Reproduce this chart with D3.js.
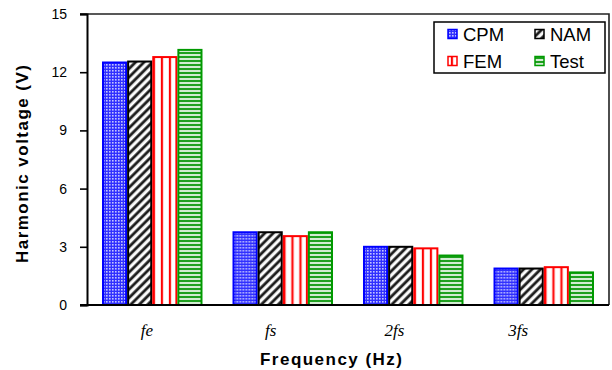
<!DOCTYPE html>
<html>
<head>
<meta charset="utf-8">
<script src="https://cdn.jsdelivr.net/npm/d3@7"></script>
<style>
  html, body { margin: 0; padding: 0; background: #fff; }
  svg { display: block; }
</style>
</head>
<body>
<svg id="chart" width="612" height="370"></svg>
<script>
// Harmonic voltage per frequency component
const categories = ["fe", "fs", "2fs", "3fs"];
const seriesNames = ["CPM", "NAM", "FEM", "Test"];
const cpm  = [12.5, 3.75, 3.0, 1.88];
const nam  = [12.55, 3.75, 3.0, 1.88];
const fem  = [12.78, 3.55, 2.92, 1.95];
const test = [13.15, 3.75, 2.55, 1.68];
const yTicks = [0, 3, 6, 9, 12, 15];

const seriesValues = [cpm, nam, fem, test];
const strokeColors = ["#0000ff", "#000000", "#ff0000", "#009a00"];
const fillIds = ["pat-cpm", "pat-nam", "pat-fem", "pat-test"];

const svg = d3.select("#chart");
const plotLeft = 87, plotRight = 609, plotTop = 14, plotBottom = 305;

// fill patterns
const defs = svg.append("defs");
const pCpm = defs.append("pattern").attr("id", "pat-cpm").attr("patternUnits", "userSpaceOnUse")
  .attr("width", 3).attr("height", 3);
pCpm.append("rect").attr("width", 3).attr("height", 3).attr("fill", "#3030ff");
pCpm.append("rect").attr("x", 1).attr("y", 1).attr("width", 1.6).attr("height", 1.6).attr("fill", "#c4c4ff");

const pNam = defs.append("pattern").attr("id", "pat-nam").attr("patternUnits", "userSpaceOnUse")
  .attr("width", 6).attr("height", 6).attr("patternTransform", "rotate(45)");
pNam.append("rect").attr("width", 6).attr("height", 6).attr("fill", "#ffffff");
pNam.append("rect").attr("x", 0).attr("width", 3.4).attr("height", 6).attr("fill", "#9a9a9a");
pNam.append("rect").attr("x", 0.6).attr("width", 2.2).attr("height", 6).attr("fill", "#111111");

const pFem = defs.append("pattern").attr("id", "pat-fem").attr("patternUnits", "userSpaceOnUse")
  .attr("width", 8).attr("height", 8);
pFem.append("rect").attr("width", 8).attr("height", 8).attr("fill", "#ffffff");
pFem.append("rect").attr("x", 2.5).attr("width", 3).attr("height", 8).attr("fill", "#ffb8b8");
pFem.append("rect").attr("x", 3).attr("width", 1.8).attr("height", 8).attr("fill", "#ff0000");

const pTest = defs.append("pattern").attr("id", "pat-test").attr("patternUnits", "userSpaceOnUse")
  .attr("width", 4).attr("height", 4);
pTest.append("rect").attr("width", 4).attr("height", 4).attr("fill", "#d2ecd2");
pTest.append("rect").attr("y", 0).attr("width", 4).attr("height", 2).attr("fill", "#1fa01f");

// scales
const x0 = d3.scaleBand().domain(categories).range([plotLeft, plotRight])
  .paddingInner(0.23).paddingOuter(0.115);
const x1 = d3.scaleBand().domain(seriesNames).range([0, x0.bandwidth()]);
const labelX = d3.scaleBand().domain(categories).range([85, 580]);
const y = d3.scaleLinear().domain([0, 15]).range([plotBottom, plotTop]);

// plot frame (top and right)
svg.append("path")
  .attr("d", `M${plotLeft - 7},${plotTop}H${plotRight}V${plotBottom}`)
  .attr("fill", "none").attr("stroke", "#222").attr("stroke-width", 1.6);

// bars
const groups = svg.append("g").selectAll("g")
  .data(categories).join("g")
  .attr("transform", d => `translate(${x0(d)},0)`);

groups.selectAll("rect")
  .data((c, ci) => seriesNames.map((s, si) => ({ s, si, v: seriesValues[si][ci] })))
  .join("rect")
  .attr("x", d => x1(d.s) + 1)
  .attr("width", x1.bandwidth() - 2)
  .attr("y", d => y(d.v))
  .attr("height", d => y(0) - y(d.v))
  .attr("fill", d => `url(#${fillIds[d.si]})`)
  .attr("stroke", d => strokeColors[d.si])
  .attr("stroke-width", 2);

// y axis
const yAxis = d3.axisLeft(y).tickValues(yTicks).tickSize(7).tickPadding(13).tickFormat(d3.format("d"));
const yg = svg.append("g").attr("transform", `translate(${plotLeft},0)`).call(yAxis);
yg.select(".domain").attr("stroke", "#000").attr("stroke-width", 2);
yg.selectAll(".tick line").attr("stroke", "#000").attr("stroke-width", 1.6);
yg.selectAll(".tick text")
  .attr("font-family", "'Liberation Sans Narrow', 'Arial Narrow', 'Liberation Sans', Arial, sans-serif")
  .attr("font-size", 14).attr("fill", "#000");

// x baseline
svg.append("line")
  .attr("x1", plotLeft - 7).attr("x2", plotRight)
  .attr("y1", y(0)).attr("y2", y(0))
  .attr("stroke", "#000").attr("stroke-width", 2);

// category labels
svg.append("g").selectAll("text")
  .data(categories).join("text")
  .attr("x", d => labelX(d) + labelX.bandwidth() / 2)
  .attr("y", 336)
  .attr("text-anchor", "middle")
  .attr("font-family", "'Liberation Serif', 'Times New Roman', serif")
  .attr("font-style", "italic")
  .attr("font-size", 17)
  .text(d => d);

// axis titles
svg.append("text")
  .attr("x", 331).attr("y", 365)
  .attr("text-anchor", "middle")
  .attr("font-family", "'Liberation Sans', Arial, sans-serif")
  .attr("font-weight", "bold").attr("font-size", 17)
  .attr("textLength", 142).attr("lengthAdjust", "spacing")
  .text("Frequency (Hz)");

svg.append("text")
  .attr("transform", "translate(28,164) rotate(-90)")
  .attr("text-anchor", "middle")
  .attr("font-family", "'Liberation Sans', Arial, sans-serif")
  .attr("font-weight", "bold").attr("font-size", 17)
  .attr("textLength", 198).attr("lengthAdjust", "spacing")
  .text("Harmonic voltage (V)");

// legend
const legend = svg.append("g");
legend.append("rect")
  .attr("x", 434).attr("y", 22).attr("width", 171).attr("height", 51)
  .attr("fill", "#fff").attr("stroke", "#000").attr("stroke-width", 1.5);

const legendCol = d3.scaleOrdinal().domain([0, 1]).range([448, 535]);
const legendRow = d3.scaleOrdinal().domain([0, 1]).range([34, 61]);

const items = legend.selectAll("g.item")
  .data(seriesNames).join("g").attr("class", "item")
  .attr("transform", (d, i) => `translate(${legendCol(i % 2)},${legendRow(Math.floor(i / 2))})`);
items.append("rect")
  .attr("x", 0).attr("y", -4.5).attr("width", 9).attr("height", 9)
  .attr("fill", (d, i) => `url(#${fillIds[i]})`)
  .attr("stroke", (d, i) => strokeColors[i]).attr("stroke-width", 1.5);
items.append("text")
  .attr("x", 15).attr("y", 6.5)
  .attr("font-family", "'Liberation Sans', Arial, sans-serif")
  .attr("font-size", 18.5)
  .text(d => d);
</script>
</body>
</html>
